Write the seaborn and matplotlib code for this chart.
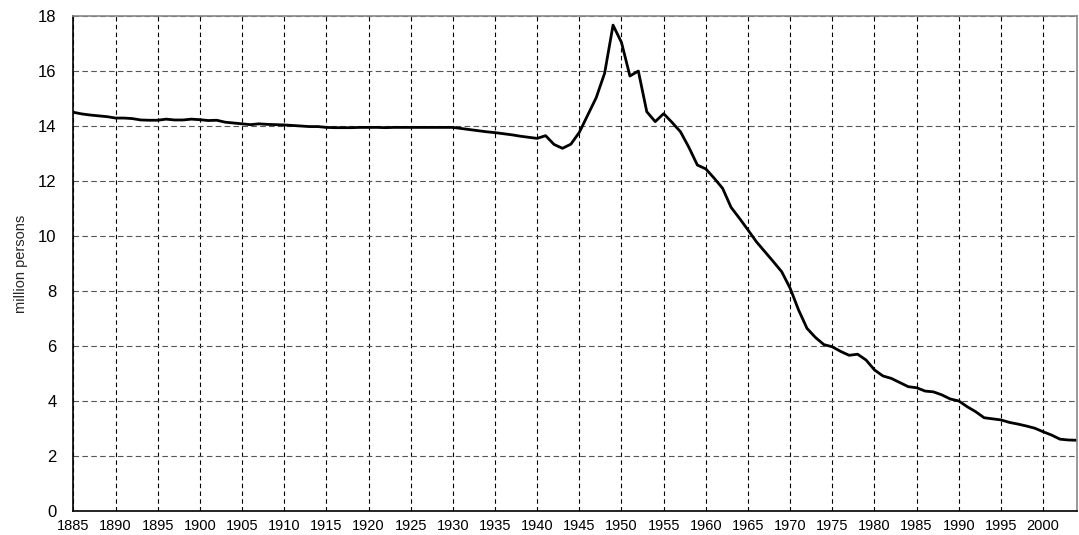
import matplotlib
matplotlib.use("Agg")
import matplotlib.pyplot as plt
import seaborn as sns
import pandas as pd

# years on the x axis
years = list(range(1885, 2005))

# million persons
persons = [
    14.50, 14.44, 14.40, 14.37, 14.34, 14.29, 14.29, 14.27, 14.22, 14.21,
    14.21, 14.25, 14.22, 14.22, 14.25, 14.23, 14.20, 14.21, 14.14, 14.11,
    14.08, 14.05, 14.08, 14.06, 14.05, 14.04, 14.02, 14.00, 13.98, 13.98,
    13.95, 13.94, 13.94, 13.94, 13.95, 13.95, 13.95, 13.94, 13.95, 13.95,
    13.95, 13.95, 13.95, 13.95, 13.95, 13.95, 13.91, 13.87, 13.83, 13.79,
    13.76, 13.72, 13.68, 13.63, 13.59, 13.55, 13.65, 13.33, 13.19, 13.34,
    13.77, 14.40, 15.03, 15.92, 17.67, 17.04, 15.82, 16.00, 14.52, 14.16,
    14.45, 14.13, 13.79, 13.22, 12.58, 12.44, 12.10, 11.73, 11.04, 10.64,
    10.22, 9.79, 9.43, 9.07, 8.70, 8.10, 7.31, 6.64, 6.31, 6.05,
    5.97, 5.80, 5.66, 5.70, 5.49, 5.13, 4.91, 4.82, 4.67, 4.52,
    4.48, 4.36, 4.33, 4.22, 4.07, 4.00, 3.79, 3.61, 3.39, 3.35,
    3.31, 3.22, 3.16, 3.09, 3.01, 2.88, 2.76, 2.61, 2.58, 2.57,
]

x_ticks = list(range(1885, 2005, 5))
y_ticks = [0, 2, 4, 6, 8, 10, 12, 14, 16, 18]

df = pd.DataFrame({"year": years, "persons": persons})

sns.set_style("white")
plt.rcParams["font.family"] = ["Liberation Sans", "DejaVu Sans"]

fig, ax = plt.subplots(figsize=(10.79, 5.35), dpi=100)
fig.subplots_adjust(left=0.068, right=0.998, bottom=0.045, top=0.970)

sns.lineplot(data=df, x="year", y="persons", color="black", linewidth=2.0, ax=ax)

ax.set_xlim(1885, 2004)
ax.set_ylim(0, 18)
ax.set_xticks(x_ticks)
ax.set_yticks(y_ticks)
ax.set_xticklabels([str(t) if t < 2004 else "" for t in x_ticks], fontsize=10.5)
ax.set_yticklabels([str(t) for t in y_ticks], fontsize=12)

# dashed grid, vertical lines darker than horizontal ones
ax.xaxis.grid(True, color="black", linestyle=(0, (4, 3)), linewidth=0.8)
ax.yaxis.grid(True, color="#555555", linestyle=(0, (5, 3)), linewidth=0.8)
ax.set_axisbelow(True)

ax.tick_params(axis="x", direction="out", length=4, width=1, pad=2, colors="black")
ax.tick_params(axis="y", length=0, pad=12, colors="black")

for side in ["left", "bottom"]:
    ax.spines[side].set_color("black")
    ax.spines[side].set_linewidth(1.2)
for side in ["top", "right"]:
    ax.spines[side].set_color("#888888")
    ax.spines[side].set_linewidth(1.2)

ax.set_xlabel("")
ax.set_ylabel("million persons", fontsize=10.5, labelpad=7)

plt.savefig("out.png", dpi=100)
